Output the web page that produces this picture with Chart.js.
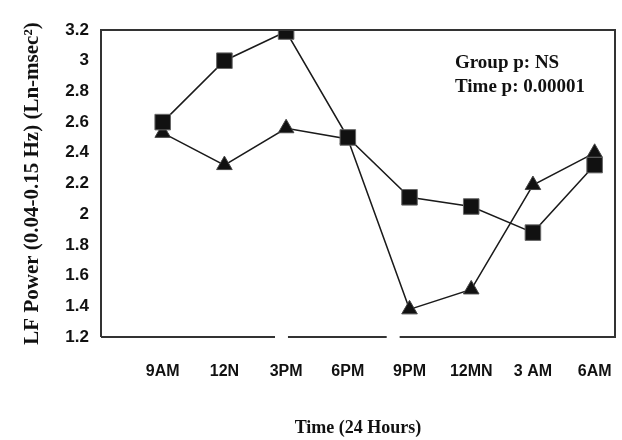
<!DOCTYPE html>
<html>
<head>
<meta charset="utf-8">
<script src="https://cdn.jsdelivr.net/npm/chart.js@4/dist/chart.umd.min.js"></script>
<style>
  html, body { margin: 0; padding: 0; background: #fff; }
  #wrap { width: 622px; height: 440px; }
</style>
</head>
<body>
<div id="wrap"><canvas id="lfChart"></canvas></div>
<script>
// --- DATA ---
const timeLabels = ['9AM', '12N', '3PM', '6PM', '9PM', '12MN', '3 AM', '6AM'];
const squareValues = [2.60, 3.00, 3.19, 2.50, 2.11, 2.05, 1.88, 2.32];
const triangleValues = [2.53, 2.32, 2.56, 2.49, 1.38, 1.51, 2.19, 2.40];
const yTicks = [1.2, 1.4, 1.6, 1.8, 2, 2.2, 2.4, 2.6, 2.8, 3, 3.2];
const statLines = ['Group p: NS', 'Time p: 0.00001'];

// breaks in the bottom axis line, in x data units
const axisGaps = [[1.82, 2.03], [3.63, 3.84]];

const toPoints = vals => vals.map((v, i) => ({ x: i, y: v }));

// frame with broken bottom edge + stats text
const framePlugin = {
    id: 'frame',
    afterDatasetsDraw(chart) {
        const { ctx, chartArea: a, scales } = chart;
        ctx.save();
        ctx.strokeStyle = '#333';
        ctx.lineWidth = 2;
        ctx.beginPath();
        ctx.moveTo(a.left, a.bottom);
        ctx.lineTo(a.left, a.top);
        ctx.lineTo(a.right, a.top);
        ctx.lineTo(a.right, a.bottom);
        for (let i = axisGaps.length - 1; i >= 0; i--) {
            const g = axisGaps[i];
            ctx.lineTo(scales.x.getPixelForValue(g[1]), a.bottom);
            ctx.moveTo(scales.x.getPixelForValue(g[0]), a.bottom);
        }
        ctx.lineTo(a.left, a.bottom);
        ctx.stroke();

        ctx.fillStyle = '#111';
        ctx.font = 'bold 19px "Liberation Serif", "Times New Roman", serif';
        ctx.textBaseline = 'middle';
        statLines.forEach((t, i) => {
            ctx.fillText(t, a.left + 354, a.top + 33 + i * 24);
        });
        ctx.restore();
    }
};

const ctx = document.getElementById('lfChart').getContext('2d');
new Chart(ctx, {
    type: 'scatter',
    data: {
        datasets: [{
            label: 'Squares',
            data: toPoints(squareValues),
            showLine: true,
            borderColor: '#1a1a1a',
            borderWidth: 1.5,
            pointStyle: 'rect',
            pointRadius: 11,
            pointBackgroundColor: '#111',
            pointBorderColor: '#666',
            pointBorderWidth: 1
        }, {
            label: 'Triangles',
            data: toPoints(triangleValues),
            showLine: true,
            borderColor: '#1a1a1a',
            borderWidth: 1.5,
            pointStyle: 'triangle',
            pointRadius: 9,
            pointBackgroundColor: '#111',
            pointBorderColor: '#444',
            pointBorderWidth: 1
        }]
    },
    options: {
        responsive: true,
        maintainAspectRatio: false,
        animation: false,
        layout: { autoPadding: false, padding: { top: 30, right: 7, left: 0, bottom: 0 } },
        plugins: {
            legend: { display: false },
            tooltip: { enabled: false }
        },
        scales: {
            x: {
                type: 'linear',
                min: -1,
                max: 7.33,
                afterBuildTicks: s => { s.ticks = timeLabels.map((_, i) => ({ value: i })); },
                afterFit: s => { s.height = 103; s.paddingLeft = 0; s.paddingRight = 0; },
                grid: { display: false, drawTicks: false },
                border: { display: false },
                ticks: {
                    padding: 25,
                    color: '#111',
                    maxRotation: 0,
                    autoSkip: false,
                    font: { family: '"Liberation Sans", Arial, sans-serif', size: 16, weight: 'bold' },
                    callback: v => timeLabels[v]
                },
                title: {
                    display: true,
                    text: 'Time (24 Hours)',
                    color: '#111',
                    padding: { top: 0, bottom: 1 },
                    font: { family: '"Liberation Serif", "Times New Roman", serif', size: 18, weight: 'bold' }
                }
            },
            y: {
                min: 1.2,
                max: 3.2,
                afterBuildTicks: s => { s.ticks = yTicks.map(v => ({ value: v })); },
                afterFit: s => { s.width = 101; s.paddingTop = 0; s.paddingBottom = 0; },
                grid: { display: false, drawTicks: false },
                border: { display: false },
                ticks: {
                    padding: 12,
                    color: '#111',
                    font: { family: '"Liberation Sans", Arial, sans-serif', size: 17, weight: 'bold' },
                    callback: v => String(v)
                },
                title: {
                    display: true,
                    text: 'LF Power (0.04-0.15 Hz) (Ln-msec²)',
                    color: '#111',
                    padding: { top: 20, bottom: 0 },
                    font: { family: '"Liberation Serif", "Times New Roman", serif', size: 21, weight: 'bold' }
                }
            }
        }
    },
    plugins: [framePlugin]
});
</script>
</body>
</html>
